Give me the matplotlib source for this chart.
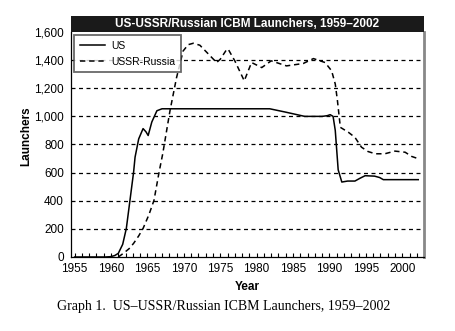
import matplotlib.pyplot as plt
from matplotlib.ticker import MultipleLocator, FuncFormatter
from matplotlib.patches import Rectangle

# values
us_years = [1955, 1959.2, 1959.9, 1960.5, 1961.0, 1961.6, 1962.1, 1962.6, 1963.1, 1963.3,
            1963.8, 1964.4, 1964.8, 1965.1, 1965.6, 1966.3, 1967.0, 1981.8, 1984.0,
            1986.6, 1989.0, 1989.7, 1990.1, 1990.5, 1990.8, 1991.2, 1991.7, 1992.5,
            1993.5, 1994.2, 1994.9, 1996.2, 1996.9, 1997.4, 2002.2]
us_values = [0, 0, 2, 10, 26, 90, 203, 403, 604, 710,
             840, 913, 890, 864, 960, 1040, 1054, 1054, 1030,
             1000, 1000, 1005, 1012, 1000, 900, 620, 533, 540,
             540, 560, 578, 575, 565, 550, 550]

ussr_years = [1961.0, 1961.8, 1962.5, 1963.1, 1963.8, 1964.4, 1965.2, 1965.9, 1966.6,
              1967.1, 1968.1, 1969.0, 1969.9, 1970.6, 1971.3, 1972.2, 1973.4, 1974.5,
              1975.0, 1975.9, 1976.1, 1977.0, 1978.3, 1979.3, 1980.7, 1982.0, 1984.1,
              1986.4, 1987.8, 1989.4, 1990.3, 1990.8, 1991.1, 1991.5, 1992.6, 1993.5,
              1994.4, 1995.3, 1996.3, 1997.6, 1999.0, 2000.4, 2001.3, 2002.2]
ussr_values = [0, 30, 60, 97, 150, 203, 300, 403, 604,
               734, 1041, 1276, 1465, 1510, 1520, 1506, 1442, 1383,
               1406, 1477, 1477, 1395, 1253, 1383, 1347, 1395, 1359,
               1376, 1411, 1383, 1324, 1230, 1111, 922, 887, 851,
               781, 750, 734, 734, 753, 745, 715, 699]

title = 'US-USSR/Russian ICBM Launchers, 1959\u20132002'
caption = 'Graph 1.  US\u2013USSR/Russian ICBM Launchers, 1959\u20132002'

plt.rcParams['font.family'] = ['Liberation Sans', 'DejaVu Sans']

fig = plt.figure(figsize=(4.56, 3.31), dpi=100)
ax = fig.add_axes([0.1557, 0.2236, 0.7743, 0.6797])

ax.plot(us_years, us_values, color='black', lw=1.1, label='US')
ax.plot(ussr_years, ussr_values, color='black', lw=1.1, ls=(0, (3.5, 2.5)), label='USSR-Russia')

ax.set_xlim(1954.5, 2003)
ax.set_ylim(0, 1600)
ax.xaxis.set_major_locator(MultipleLocator(5))
ax.xaxis.set_minor_locator(MultipleLocator(1))
ax.yaxis.set_major_locator(MultipleLocator(200))
ax.yaxis.set_major_formatter(FuncFormatter(lambda v, p: f'{int(v):,}'))

for v in range(200, 1600, 200):
    ax.axhline(v, color='black', lw=0.9, ls=(0, (3.2, 2.8)), zorder=0)

ax.tick_params(axis='x', which='both', direction='in', length=3, width=0.8, labelsize=8.5, pad=4.5)
ax.tick_params(axis='y', length=0, labelsize=8.5, pad=5)

ax.spines['top'].set_visible(False)
ax.spines['right'].set_color('#888888')
ax.spines['right'].set_linewidth(2)
ax.spines['left'].set_linewidth(0.9)
ax.spines['bottom'].set_linewidth(0.9)

ax.set_xlabel('Year', fontsize=8.5, fontweight='bold', labelpad=4)
fig.text(0.058, 0.588, 'Launchers', rotation=90, fontsize=8.5, fontweight='bold',
         ha='center', va='center')

leg = ax.legend(loc='upper left', fontsize=7.5, frameon=True, fancybox=False,
                borderaxespad=0.3, handlelength=2.4, handletextpad=0.6,
                borderpad=0.55, labelspacing=0.55)
leg.get_frame().set_edgecolor('#444444')
leg.get_frame().set_linewidth(1.3)

# black title bar above the axes
fig.patches.append(Rectangle((0.1557, 0.9033), 0.7743, 0.0484, transform=fig.transFigure,
                             facecolor='#1a1a1a', edgecolor='none'))
fig.text(0.5428, 0.927, title, color='white', fontsize=8.5, fontweight='bold',
         ha='center', va='center')

fig.text(0.49, 0.073, caption, fontsize=10, family=['Liberation Serif', 'DejaVu Serif'],
         ha='center', va='center')

fig.savefig('out.png', dpi=100)
